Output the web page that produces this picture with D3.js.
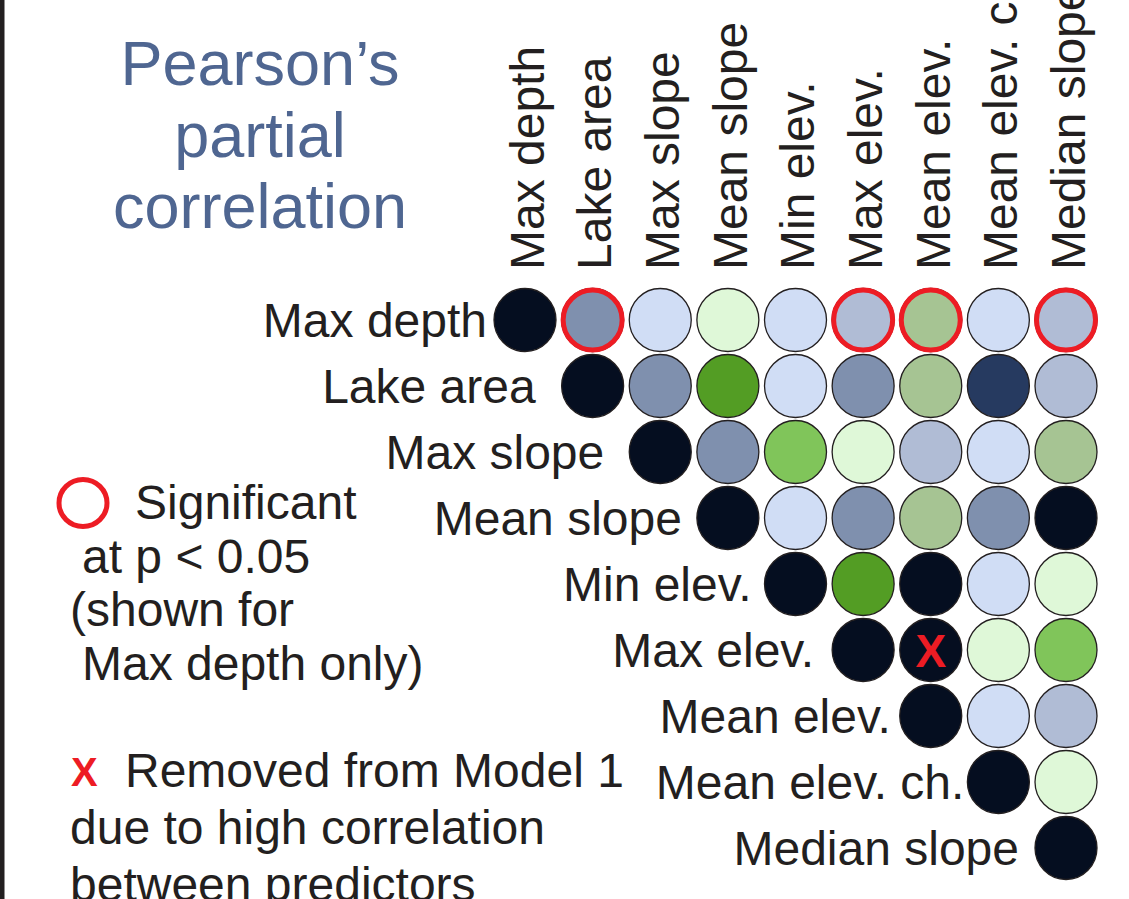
<!DOCTYPE html>
<html>
<head>
<meta charset="UTF-8">
<style>
  body { margin: 0; background: #fff; }
  svg text { font-family: "Liberation Sans", Arial, Helvetica, sans-serif; fill: #231f20; }
  .title { fill: #4f6691; font-size: 63px; }
  .lab { font-size: 48px; }
  .cell { stroke: #231f20; stroke-width: 1.3; }
  .sig { fill: none; stroke: #ed1c24; stroke-width: 5; }
  .xmark { fill: #ed1c24; font-weight: bold; }
</style>
<script src="https://d3js.org/d3.v7.min.js"></script>
</head>
<body>
<svg width="1129" height="899"></svg>
<script>
// predictors, in matrix order
var predictors = ['Max depth', 'Lake area', 'Max slope', 'Mean slope', 'Min elev.',
                  'Max elev.', 'Mean elev.', 'Mean elev. ch.', 'Median slope'];

// partial r, upper triangle, each row starts on the diagonal (estimated from colour bins)
var rMaxDepth   = [1.0, -0.48, -0.12, 0.10, -0.08, -0.32, 0.35, -0.10, -0.30];
var rLakeArea   = [1.0, -0.50, 0.72, -0.10, -0.46, 0.30, -0.70, -0.28];
var rMaxSlope   = [1.0, -0.52, 0.55, 0.12, -0.30, -0.06, 0.28];
var rMeanSlope  = [1.0, -0.14, -0.48, 0.32, -0.50, 0.86];
var rMinElev    = [1.0, 0.68, 0.88, -0.12, 0.08];
var rMaxElev    = [1.0, 0.95, 0.15, 0.50];
var rMeanElev   = [1.0, -0.10, -0.30];
var rMeanElevCh = [1.0, 0.10];
var rMedSlope   = [1.0];
var rows = [rMaxDepth, rLakeArea, rMaxSlope, rMeanSlope, rMinElev,
            rMaxElev, rMeanElev, rMeanElevCh, rMedSlope];

// [row, col] pairs
var significant = [[0, 1], [0, 5], [0, 6], [0, 8]];
var removed = [[5, 6]];

// colour bins
var binEdges  = [-0.8, -0.6, -0.4, -0.2, 0, 0.2, 0.4, 0.6, 0.8];
var binColors = ['#050e20', '#263a60', '#7f90ae', '#b0bcd5', '#d0ddf5',
                 '#dff8d8', '#a6c493', '#80c55a', '#539d24', '#050e20'];

var legendSig = ['Significant', 'at p < 0.05', '(shown for', 'Max depth only)'];
var legendRem = ['Removed from Model 1', 'due to high correlation', 'between predictors'];
var titleLines = ['Pearson\u2019s', 'partial', 'correlation'];

// layout: gap between a row label and its diagonal circle (hand placed in the original)
var labelGap = [7, 26, 25, 15, 13, 18, 9, 3, 16];

var svg = d3.select('svg');

var color = d3.scaleThreshold().domain(binEdges).range(binColors);
var x = d3.scalePoint().domain(d3.range(predictors.length)).range([525, 1066]);
var y = d3.scalePoint().domain(d3.range(predictors.length)).range([320, 848]);
var rx = 31, ry = 31.5;

// left frame line
svg.append('rect').attr('x', 0).attr('y', 0).attr('width', 4.5).attr('height', 899).attr('fill', '#231f20');

// title
svg.append('g').selectAll('text')
  .data(titleLines)
  .enter().append('text')
    .attr('class', 'title')
    .attr('x', 260)
    .attr('y', function(d, i) { return 85 + i * 71.5; })
    .attr('text-anchor', 'middle')
    .text(function(d) { return d; });

// flatten to cells
var cells = [];
rows.forEach(function(row, i) {
  row.forEach(function(v, k) {
    cells.push({ i: i, j: i + k, r: v });
  });
});

var key = function(a) { return a[0] + '-' + a[1]; };
var sigSet = new Set(significant.map(key));
var remSet = new Set(removed.map(key));

// column labels
svg.append('g').selectAll('text')
  .data(predictors)
  .enter().append('text')
    .attr('class', 'lab')
    .attr('transform', function(d, j) { return 'translate(' + (x(j) + 2) + ',270) rotate(-90)'; })
    .attr('dy', '0.35em')
    .text(function(d) { return d; });

// row labels
svg.append('g').selectAll('text')
  .data(predictors)
  .enter().append('text')
    .attr('class', 'lab')
    .attr('x', function(d, i) { return x(i) - rx - labelGap[i]; })
    .attr('y', function(d, i) { return y(i); })
    .attr('dy', '0.35em')
    .attr('text-anchor', 'end')
    .text(function(d) { return d; });

// circles
var cell = svg.append('g').selectAll('g')
  .data(cells)
  .enter().append('g')
    .attr('transform', function(d) { return 'translate(' + x(d.j) + ',' + y(d.i) + ')'; });

cell.append('ellipse')
  .attr('class', 'cell')
  .attr('rx', rx)
  .attr('ry', ry)
  .attr('fill', function(d) { return color(d.r); });

cell.filter(function(d) { return sigSet.has(d.i + '-' + d.j); })
  .append('ellipse')
    .attr('class', 'sig')
    .attr('rx', rx - 1.5)
    .attr('ry', ry - 1.5);

cell.filter(function(d) { return remSet.has(d.i + '-' + d.j); })
  .append('text')
    .attr('class', 'xmark')
    .attr('text-anchor', 'middle')
    .attr('dy', '0.36em')
    .style('font-size', '46px')
    .text('X');

// legend: significance
var leg = svg.append('g');
leg.append('ellipse')
  .attr('class', 'sig')
  .attr('cx', 83).attr('cy', 503)
  .attr('rx', 24).attr('ry', 23.5);

var sigX = [135, 82, 70, 82];
leg.selectAll('text.s')
  .data(legendSig)
  .enter().append('text')
    .attr('class', 'lab s')
    .attr('x', function(d, i) { return sigX[i]; })
    .attr('y', function(d, i) { return 519 + i * 53.7; })
    .text(function(d) { return d; });

// legend: removed
leg.append('text')
  .attr('class', 'xmark')
  .attr('x', 71).attr('y', 786)
  .style('font-size', '40px')
  .text('X');

var remX = [125, 70, 70];
leg.selectAll('text.r')
  .data(legendRem)
  .enter().append('text')
    .attr('class', 'lab r')
    .attr('x', function(d, i) { return remX[i]; })
    .attr('y', function(d, i) { return 787 + i * 57; })
    .text(function(d) { return d; });
</script>
</body>
</html>
